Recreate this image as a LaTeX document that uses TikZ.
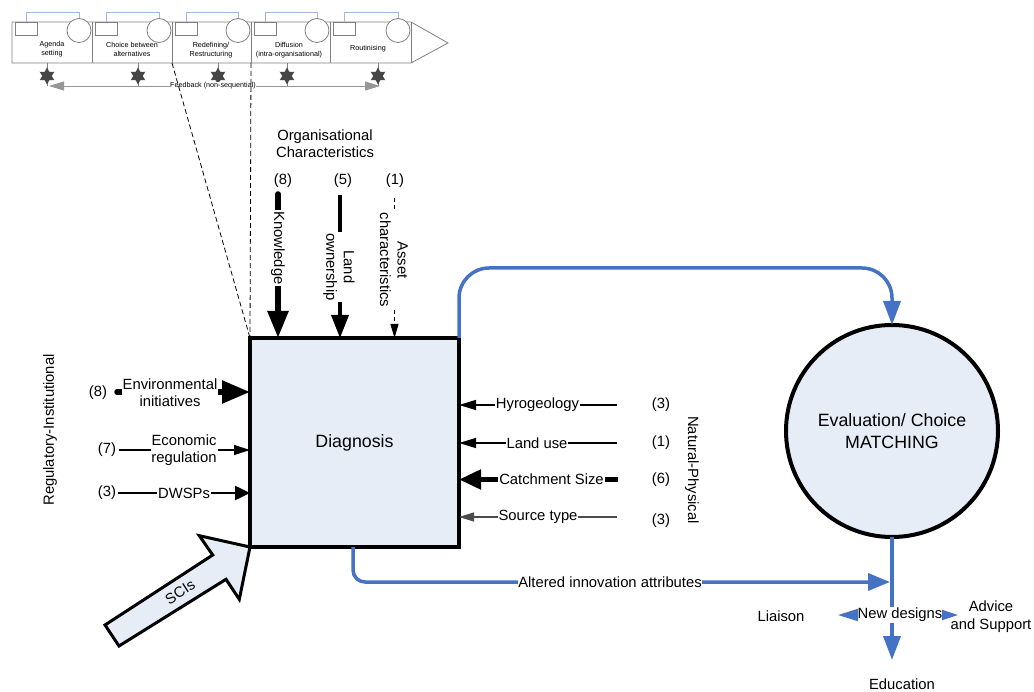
\documentclass[tikz,border=0pt]{standalone}
\usepackage{fontspec}
\setmainfont{Liberation Sans}
\usetikzlibrary{arrows.meta,shapes.geometric,calc}
\definecolor{boxfill}{RGB}{231,237,247}
\definecolor{flowblue}{RGB}{68,114,196}
\definecolor{stripgray}{RGB}{128,128,128}
\definecolor{linkblue}{RGB}{160,185,225}
\definecolor{stargray}{RGB}{70,70,70}
\definecolor{fbgray}{RGB}{150,150,150}
\newcommand{\fntlbl}{\fontsize{14.8pt}{17.5pt}\selectfont}
\newcommand{\fntbig}{\fontsize{17.8pt}{21.7pt}\selectfont}
\newcommand{\fntsml}{\fontsize{7.2pt}{8.9pt}\selectfont}

\begin{document}
\begin{tikzpicture}[x=1pt,y=-1pt,
  lbl/.style={font=\fntlbl, inner sep=1pt, align=center},
  lblw/.style={lbl, fill=white},
  sml/.style={font=\fntsml, inner sep=0.5pt, align=center},
  flow/.style={draw=flowblue, line width=3.5pt},
  stripline/.style={draw=stripgray, line width=0.8pt},
  guide/.style={draw=black, line width=0.8pt, dash pattern=on 5pt off 3pt},
  marker/.style={star, star points=6, star point ratio=1.8, fill=stargray, inner sep=0pt, minimum size=17pt},
]
\useasboundingbox (0,0) rectangle (1034,692);

% ---- innovation process strip ----
\path[stripline, fill=white] (12,22) -- (411,22) -- (448,43) -- (411,63) -- (12,63) -- cycle;
\foreach \xr in {92,172,251,330,411} \draw[stripline] (\xr,22) -- (\xr,63);
\foreach \l/\r in {12/92,92/172,172/251,251/330,330/411}{
  \draw[linkblue, line width=0.8pt] (\l+14,22.5) -- (\l+14,12) -- (\r-13,12) -- (\r-13,18.5);
  \draw[stripline, fill=white] (\l+3,22.5) rectangle (\l+25,35.5);
  \draw[stripline, fill=white] (\r-13,30.5) circle[radius=12pt];
}
\node[sml] (p1) at (52,49) {Agenda\\setting};
\node[sml] (p2) at (132,49) {Choice between\\alternatives};
\node[sml] (p3) at (211,50.5) {Redefining/\\Restructuring};
\node[sml] (p4) at (289,50.5) {Diffusion\\(intra-organisational)};
\node[sml] (p5) at (368,48.7) {Routinising};

% feedback arrow with stage markers
\coordinate (fbL) at (49,86);
\coordinate (fbR) at (380,86);
\foreach \xs in {47,138,218,287,378}{
  \draw[stripline, line width=0.6pt] (\xs,63) -- (\xs,86);
  \node[marker] at (\xs,76) {};
}
\draw[draw=fbgray, line width=0.8pt, {Triangle[length=15pt,width=9pt]}-{Triangle[length=15pt,width=9pt]}] (fbL) -- (fbR);
\node[sml, fill=white] (fb) at (213,86) {Feedback (non-sequential)};

% ---- main nodes ----
\node[draw, line width=4pt, fill=boxfill, minimum width=209pt, minimum height=209pt,
      inner sep=0pt, outer sep=0pt, font=\fntbig] (diag) at (354.5,442.5) {Diagnosis};
\node[circle, draw, line width=4pt, fill=boxfill, minimum size=212pt, inner sep=0pt,
      outer sep=0pt, font=\fntbig, align=center] (eval) at (892,431) {Evaluation/ Choice\\MATCHING};

% zoom guides from the strip down to the diagnosis box
\coordinate (zL) at (172,63);
\coordinate (zR) at (251,63);
\draw[guide] (zL) -- (diag.north west);
\draw[guide] (zR) -- (diag.north west);

% ---- organisational characteristics ----
\node[lbl] (org) at (325,143.5) {Organisational\\Characteristics};
\node[lbl] (n8a) at (283,181) {(8)};
\node[lbl] (n5) at (343,181) {(5)};
\node[lbl] (n1a) at (395,181) {(1)};
\coordinate (kTop) at (278,194);
\coordinate (lTop) at (340,195);
\coordinate (aTop) at (394.5,198);
\draw[line width=5.5pt, line cap=round, -{Triangle[length=27pt,width=20pt]}] (kTop) -- (kTop |- diag.north);
\draw[line width=3.7pt, -{Triangle[length=23pt,width=17pt]}] (lTop) -- (lTop |- diag.north);
\draw[line width=1pt, dash pattern=on 4pt off 3pt, -{Triangle[length=14pt,width=8pt]}] (aTop) -- (aTop |- diag.north);
\node[lblw, rotate=-90] (know) at (278,248) {Knowledge};
\node[lblw, rotate=-90] (land) at (339,267) {Land\\ownership};
\node[lblw, rotate=-90] (asset) at (394,260) {Asset\\characteristics};

% ---- regulatory-institutional ----
\node[lbl, rotate=90] (regi) at (50,430) {Regulatory-Institutional};
\node[lbl] (n8b) at (98,393) {(8)};
\node[lbl] (n7) at (107,450) {(7)};
\node[lbl] (n3a) at (107,493) {(3)};
\coordinate (eStart) at (117,392);
\coordinate (ecStart) at (119,450);
\coordinate (dStart) at (118,493);
\draw[line width=5.5pt, line cap=round, -{Triangle[length=28pt,width=22pt]}] (eStart) -- (eStart -| diag.west);
\draw[line width=1.3pt, -{Triangle[length=16pt,width=10pt]}] (ecStart) -- (ecStart -| diag.west);
\draw[line width=2.5pt, -{Triangle[length=15pt,width=14pt]}] (dStart) -- (dStart -| diag.west);
\node[lblw] (env) at (170,392.5) {Environmental\\initiatives};
\node[lblw] (econ) at (184,450) {Economic\\regulation};
\node[lblw] (dwsp) at (184,493) {DWSPs};

% ---- natural-physical ----
\coordinate (hStart) at (617,405);
\coordinate (uStart) at (617,443);
\coordinate (cStart) at (618,479.5);
\coordinate (sStart) at (617,517);
\draw[line width=1.3pt, -{Triangle[length=17pt,width=10pt]}] (hStart) -- (hStart -| diag.east);
\draw[line width=1.3pt, -{Triangle[length=17pt,width=10pt]}] (uStart) -- (uStart -| diag.east);
\draw[line width=5pt, -{Triangle[length=22pt,width=19pt]}] (cStart) -- (cStart -| diag.east);
\draw[draw=black!70, line width=1.3pt, -{Triangle[length=15pt,width=9pt]}] (sStart) -- (sStart -| diag.east);
\node[lblw] (hyd) at (537.5,405) {Hyrogeology};
\node[lblw] (luse) at (537,443) {Land use};
\node[lblw] (catch) at (551.5,479.5) {Catchment Size};
\node[lblw] (src) at (538,517) {Source type};
\node[lbl] (n3b) at (661,405) {(3)};
\node[lbl] (n1b) at (661,443) {(1)};
\node[lbl] (n6) at (661,480) {(6)};
\node[lbl] (n3c) at (661,521) {(3)};
\node[lbl, rotate=-90] (natp) at (692,470) {Natural-Physical};

% ---- SCIs block arrow ----
\draw[line width=3pt, fill=boxfill, line join=miter]
  (105,625) -- (212.7,555) -- (199.3,535.7) -- (diag.south west)
  -- (239.3,599.3) -- (226,579.3) -- (119,646) -- cycle;
\node[lbl, rotate=33] (sci) at (180,592) {SCIs};

% ---- blue flows ----
\coordinate (topbend) at (892,268);
\draw[flow, rounded corners=30pt, -{Triangle[length=24pt,width=17pt]}] (diag.north east) |- (topbend) -- (eval.north);
\coordinate (altEnd) at (890,582);
\draw[flow, rounded corners=12pt, -{Triangle[length=22pt,width=17pt]}] ([xshift=-1.5pt]diag.south) |- (altEnd);
\node[lblw, inner xsep=0.5pt] (alt) at (610,582) {Altered innovation attributes};
\coordinate (eduTip) at (892,660);
\draw[flow, -{Triangle[length=24pt,width=17pt]}] (eval.south) -- (eduTip);
\coordinate (liaTip) at (838,615);
\coordinate (advTip) at (958,615);
\draw[draw=flowblue, line width=2pt, {Triangle[length=20pt,width=12pt]}-{Triangle[length=16pt,width=10pt]}] (liaTip) -- (advTip);
\node[lblw, inner xsep=0pt] (newd) at (900,615) {New designs};
\node[lbl] (lia) at (781,616) {Liaison};
\node[lbl] (adv) at (991,616.5) {Advice\\and Support};
\node[lbl] (edu) at (902,684) {Education};
\end{tikzpicture}
\end{document}
